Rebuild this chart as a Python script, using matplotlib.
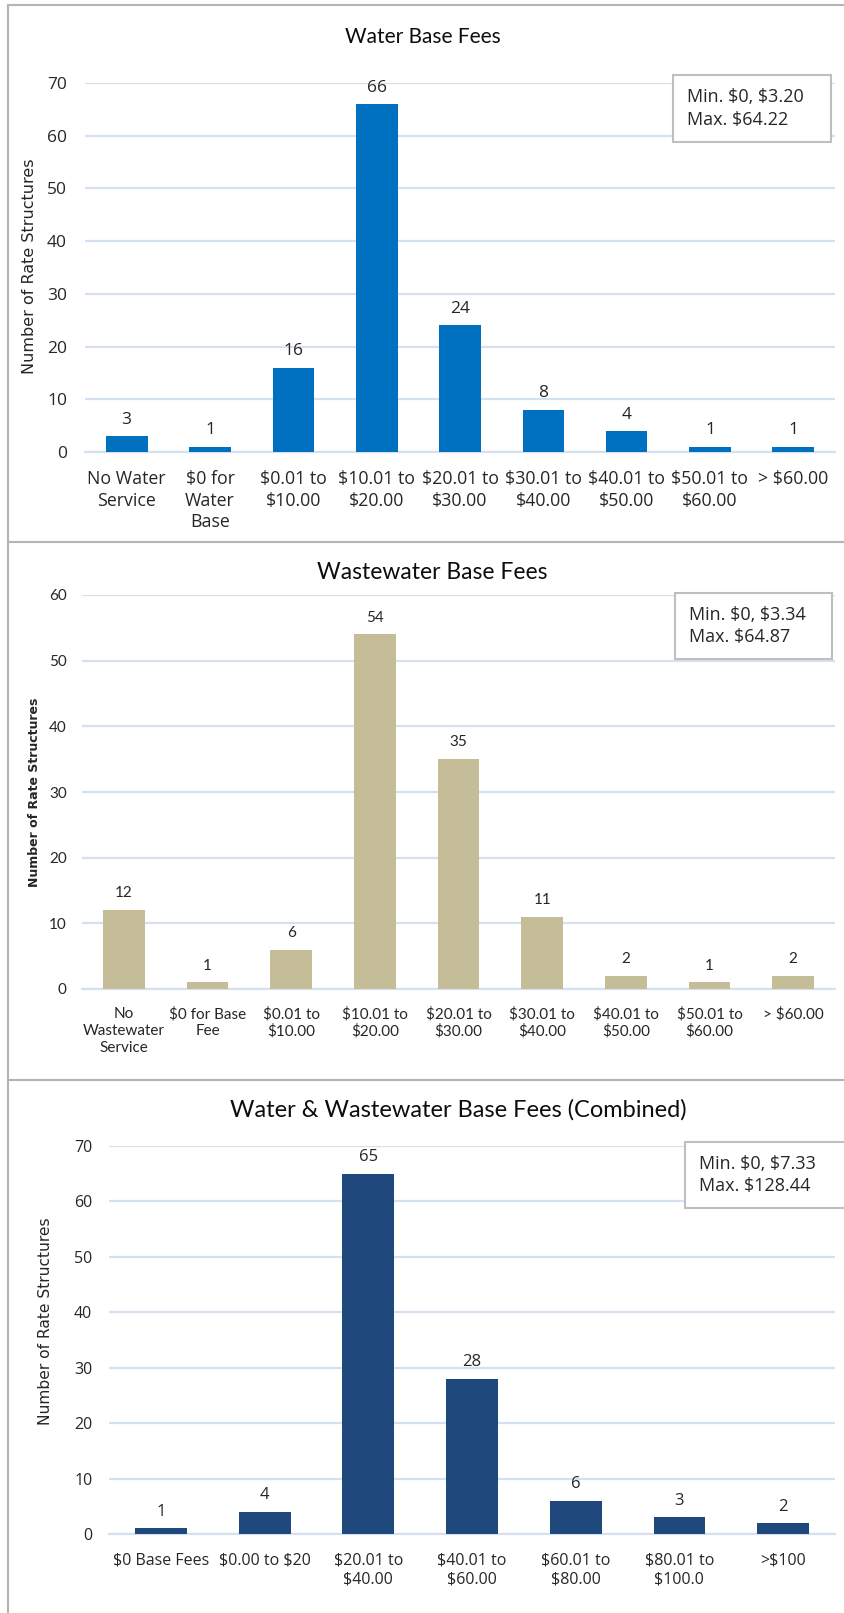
import matplotlib.pyplot as plt
from matplotlib.patches import Rectangle
from matplotlib.lines import Line2D

plt.rcParams["text.parse_math"] = False

# data
water_cats = ["No Water\nService", "$0 for\nWater\nBase", "$0.01 to\n$10.00", "$10.01 to\n$20.00",
              "$20.01 to\n$30.00", "$30.01 to\n$40.00", "$40.01 to\n$50.00", "$50.01 to\n$60.00", "> $60.00"]
water_vals = [3, 1, 16, 66, 24, 8, 4, 1, 1]

ww_cats = ["No\nWastewater\nService", "$0 for Base\nFee", "$0.01 to\n$10.00", "$10.01 to\n$20.00",
           "$20.01 to\n$30.00", "$30.01 to\n$40.00", "$40.01 to\n$50.00", "$50.01 to\n$60.00", "> $60.00"]
ww_vals = [12, 1, 6, 54, 35, 11, 2, 1, 2]

comb_cats = ["$0 Base Fees", "$0.00 to $20", "$20.01 to\n$40.00", "$40.01 to\n$60.00",
             "$60.01 to\n$80.00", "$80.01 to\n$100.0", ">$100"]
comb_vals = [1, 4, 65, 28, 6, 3, 2]

W, H = 844, 1613
fig = plt.figure(figsize=(W / 100, H / 100), dpi=100)
GRID = "#D5E0F1"
FRAME = "#B4B4B4"


def px_axes(left, right, top, bottom):
    return fig.add_axes([left / W, 1 - bottom / H, (right - left) / W, (bottom - top) / H])


def panel(ax, cats, vals, color, ymax, tick_font, tick_size, xfont, xsize, lab_size, lab_off, pad, xpad, lsp):
    x = range(len(cats))
    bars = ax.bar(x, vals, width=0.5, color=color, zorder=3)
    ax.set_xlim(-0.5, len(cats) - 0.5)
    ax.set_ylim(0, ymax)
    ax.set_yticks(range(0, ymax + 1, 10))
    ax.yaxis.grid(True, color=GRID, lw=1.6, zorder=0)
    ax.set_axisbelow(True)
    for s in ["top", "right", "left"]:
        ax.spines[s].set_visible(False)
    ax.spines["bottom"].set_color(GRID)
    ax.spines["bottom"].set_linewidth(1.6)
    ax.tick_params(length=0)
    ax.tick_params(axis="y", pad=pad)
    ax.tick_params(axis="x", pad=xpad)
    ax.set_xticks(list(x))
    ax.set_xticklabels(cats, fontfamily=xfont, fontsize=xsize, color="#262626", linespacing=lsp, va="top")
    for t in ax.get_yticklabels():
        t.set_fontfamily(tick_font)
        t.set_fontsize(tick_size)
        t.set_color("#262626")
    for b, v in zip(bars, vals):
        ax.annotate(str(v), (b.get_x() + b.get_width() / 2, v), xytext=(0, lab_off),
                    textcoords="offset points", ha="center", va="bottom",
                    fontfamily=tick_font, fontsize=lab_size, color="#262626")


def note(x0, y0, x1, y1, text, size, family):
    fig.add_artist(Rectangle((x0 / W, 1 - y1 / H), (x1 - x0) / W, (y1 - y0) / H,
                             transform=fig.transFigure, facecolor="white", edgecolor="#BFBFBF", lw=1.5, zorder=5))
    fig.text((x0 + 14) / W, 1 - ((y0 + y1) / 2) / H, text, ha="left", va="center", fontsize=size,
             fontfamily=family, color="#262626", linespacing=1.35, zorder=6)


# panel frames
fig.add_artist(Line2D([8 / W, 8 / W], [0, 1 - 5 / H], transform=fig.transFigure, color=FRAME, lw=1.5))
for yy in [5, 542, 1080]:
    fig.add_artist(Line2D([8 / W, 1], [1 - yy / H, 1 - yy / H], transform=fig.transFigure, color=FRAME, lw=1.5))

# panel 1
ax1 = px_axes(85, 835, 83, 452)
panel(ax1, water_cats, water_vals, "#0070C0", 70, "Open Sans", 12.5, "Open Sans", 12.8, 12.5, 6, 13, 13, 1.25)
fig.text(423 / W, 1 - 37 / H, "Water Base Fees", ha="center", va="center", fontsize=15, fontfamily="Lato",
         color="#0D0D0D")
fig.text(30 / W, 1 - 266 / H, "Number of Rate Structures", rotation=90, ha="center", va="center",
         fontsize=11.5, fontfamily="DejaVu Sans", color="#262626")
note(673, 75, 831, 142, "Min. $0, $3.20\nMax. $64.22", 13, "Open Sans")

# panel 2
ax2 = px_axes(82, 835, 595, 989)
panel(ax2, ww_cats, ww_vals, "#C4BD97", 60, "Lato", 11, "Lato", 11, 11, 7, 11, 13, 1.25)
fig.text(432 / W, 1 - 573 / H, "Wastewater Base Fees", ha="center", va="center", fontsize=16.5, fontfamily="Lato",
         color="#0D0D0D")
fig.text(35 / W, 1 - 792 / H, "Number of Rate Structures", rotation=90, ha="center", va="center",
         fontsize=9, fontweight="bold", fontfamily="DejaVu Sans", color="#262626")
note(675, 593, 832, 659, "Min. $0, $3.34\nMax. $64.87", 13, "Open Sans")

# panel 3
ax3 = px_axes(109, 835, 1146, 1534)
panel(ax3, comb_cats, comb_vals, "#1F497D", 70, "Open Sans", 11.5, "Open Sans", 11.5, 12, 6, 12, 13, 1.3)
fig.text(458 / W, 1 - 1110 / H, "Water & Wastewater Base Fees (Combined)", ha="center", va="center",
         fontsize=17, fontfamily="Lato", color="#0D0D0D")
fig.text(46 / W, 1 - 1321 / H, "Number of Rate Structures", rotation=90, ha="center", va="center",
         fontsize=11.2, fontfamily="DejaVu Sans", color="#262626")
note(685, 1142, 846, 1208, "Min. $0, $7.33\nMax. $128.44", 13, "Open Sans")

fig.savefig("out.png", dpi=100)
